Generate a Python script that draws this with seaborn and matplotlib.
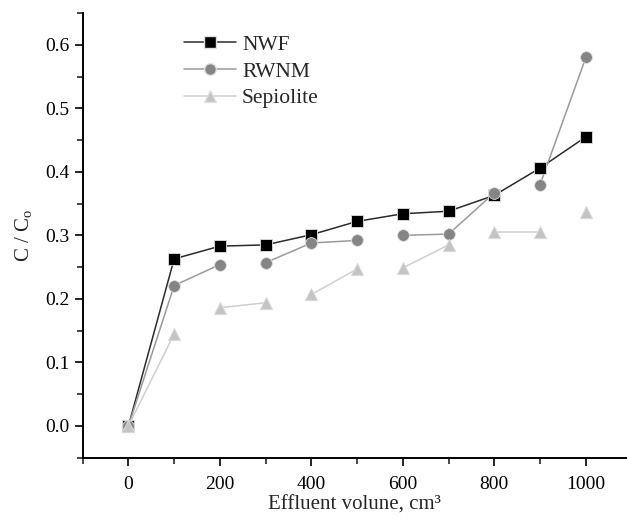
import numpy as np
import pandas as pd
import matplotlib.pyplot as plt
import seaborn as sns
from matplotlib.lines import Line2D
from matplotlib.ticker import MultipleLocator

# data
volume = [0, 100, 200, 300, 400, 500, 600, 700, 800, 900, 1000]
nwf = [0.0, 0.263, 0.283, 0.285, 0.301, 0.322, 0.334, 0.338, 0.363, 0.406, 0.455]
rwnm = [0.0, 0.221, 0.254, 0.257, 0.288, 0.292, 0.300, 0.302, 0.367, 0.380, 0.580]
sepiolite = [0.0, 0.145, 0.186, 0.194, 0.207, 0.247, 0.249, 0.285, 0.305, 0.305, 0.336]
series_names = ['NWF', 'RWNM', 'Sepiolite']

# which neighbouring points are joined by a line in the original
nwf_links = [1, 1, 1, 1, 1, 1, 1, 1, 1, 1]
rwnm_links = [1, 1, 0, 1, 1, 0, 1, 1, 0, 1]
sep_links = [1, 0, 1, 0, 1, 0, 1, 0, 1, 0]

sns.set_style('ticks')
plt.rcParams['font.family'] = ['Liberation Serif', 'DejaVu Serif']
plt.rcParams['mathtext.fontset'] = 'custom'
plt.rcParams['mathtext.rm'] = 'Liberation Serif'

fig = plt.figure(figsize=(6.27, 5.17), dpi=100)
ax = fig.add_axes([82.7 / 627, 1 - 457.7 / 517, (627 - 82.7) / 627, (457.7 - 13) / 517])

styles = [
    dict(marker='s', mfc='black', lc='#2b2b2b', ms=8),
    dict(marker='o', mfc='#858585', lc='#9a9a9a', ms=8.5),
    dict(marker='^', mfc='#c4c4c4', lc='#cfcfcf', ms=9),
]
all_vals = [nwf, rwnm, sepiolite]
all_links = [nwf_links, rwnm_links, sep_links]

for name, vals, links, st in zip(series_names, all_vals, all_links, styles):
    df = pd.DataFrame({'volume': volume, 'ratio': vals})
    for i, on in enumerate(links):
        if on:
            sns.lineplot(data=df.iloc[i:i + 2], x='volume', y='ratio', ax=ax,
                         color=st['lc'], lw=1.1, zorder=2, legend=False)
    sns.scatterplot(data=df, x='volume', y='ratio', ax=ax, marker=st['marker'],
                    color=st['mfc'], s=st['ms'] ** 2, edgecolor='#e0e0e0',
                    linewidth=0.6, zorder=3, legend=False)

handles = [Line2D([0], [0], color=st['lc'], lw=1.1, marker=st['marker'],
                  mfc=st['mfc'], mec='#e0e0e0', ms=st['ms'])
           for st in styles]
ax.legend(handles, series_names, loc='upper left', bbox_to_anchor=(0.17, 0.97),
          frameon=False, fontsize=15.5, handlelength=2.4, handletextpad=0.3,
          labelspacing=0.3, borderaxespad=0)

ax.set_xlim(-100, 1090)
ax.set_ylim(-0.05, 0.65)
ax.xaxis.set_major_locator(MultipleLocator(200))
ax.xaxis.set_minor_locator(MultipleLocator(100))
ax.yaxis.set_major_locator(MultipleLocator(0.1))
ax.yaxis.set_minor_locator(MultipleLocator(0.05))
ax.yaxis.set_major_formatter(plt.FormatStrFormatter('%.1f'))
ax.tick_params(which='major', length=6, width=1.2, labelsize=14, colors='black')
ax.tick_params(which='minor', length=4, width=1.2)
ax.tick_params(axis='x', pad=7)

for s in ['top', 'right']:
    ax.spines[s].set_visible(False)
for s in ['left', 'bottom']:
    ax.spines[s].set_linewidth(1.4)
    ax.spines[s].set_color('black')

ax.set_xlabel('Effluent volune, cm³', fontsize=15, labelpad=2)
ax.set_ylabel(r'C / C$_\mathregular{o}$', fontsize=15, labelpad=7)

fig.savefig('out.png', dpi=100)
